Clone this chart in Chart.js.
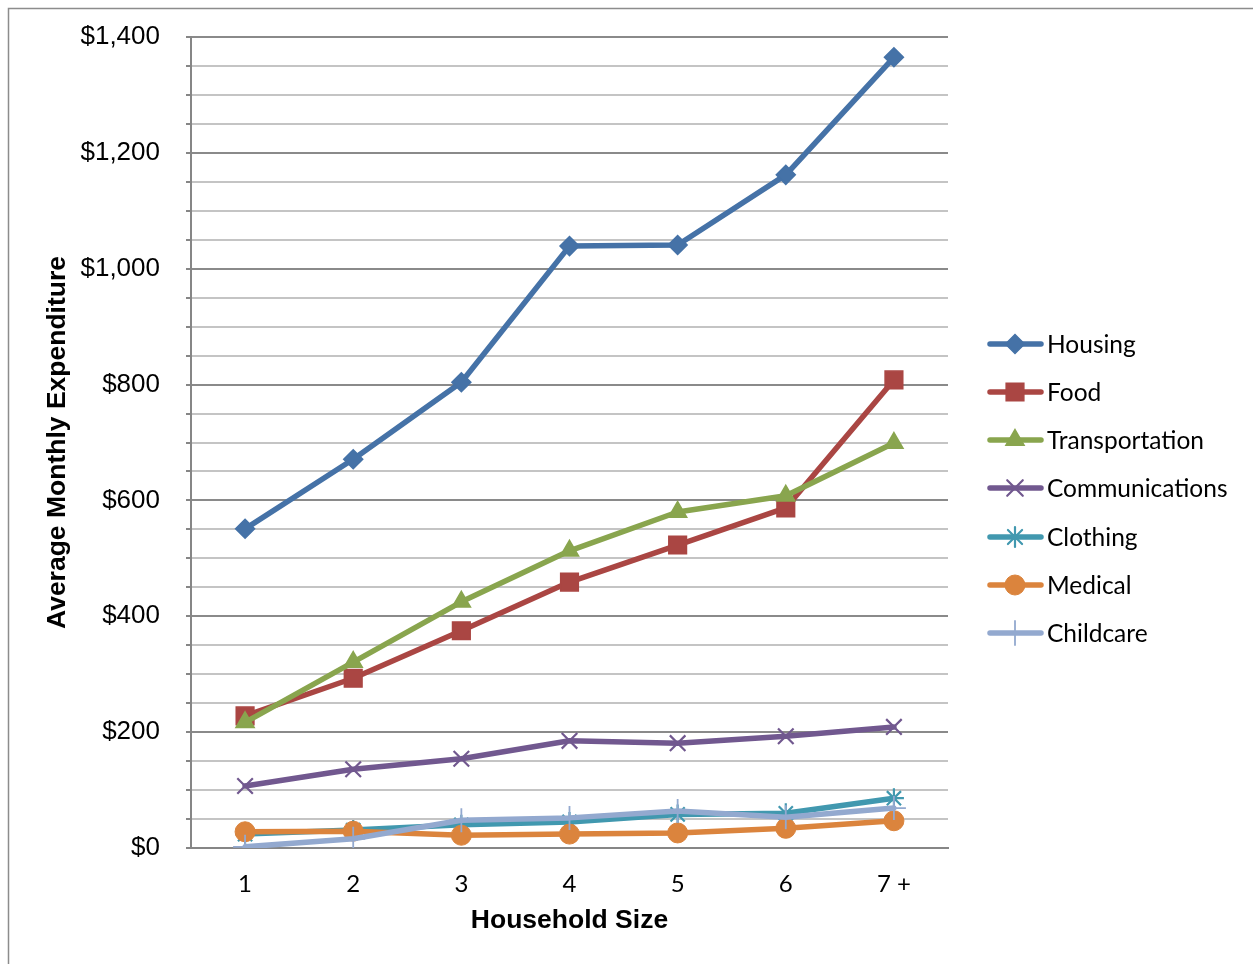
<!DOCTYPE html>
<html>
<head>
<meta charset="utf-8">
<script src="https://cdn.jsdelivr.net/npm/chart.js@4/dist/chart.umd.min.js"></script>
<style>
html,body{margin:0;padding:0;background:#fff;}
#wrap{position:relative;width:1253px;height:964px;}
canvas{display:block;}
</style>
</head>
<body>
<div id="wrap"><canvas id="c" width="1253" height="964"></canvas></div>
<script>
const categories = ['1', '2', '3', '4', '5', '6', '7 +'];
const housing = [551, 671, 804, 1039, 1041, 1162, 1365];
const food = [228, 293, 375, 459, 523, 587, 808];
const transportation = [217, 321, 425, 513, 580, 608, 699];
const communications = [107, 136, 154, 185, 181, 193, 209];
const clothing = [24, 31, 40, 45, 58, 60, 86];
const medical = [28, 29, 22, 24, 26, 34, 47];
const childcare = [2, 16, 48, 52, 64, 53, 69];
const yTickLabels = ['$0', '$200', '$400', '$600', '$800', '$1,000', '$1,200', '$1,400'];

const seriesDefs = [
  {label: 'Housing', data: housing, color: '#4572A7', style: 'rectRot', radius: 9.5, bw: 1.5},
  {label: 'Food', data: food, color: '#AA4643', style: 'rect', radius: 12.5, bw: 1.5},
  {label: 'Transportation', data: transportation, color: '#89A54E', style: 'triangle', radius: 10.5, bw: 1.5},
  {label: 'Communications', data: communications, color: '#71588F', style: 'crossRot', radius: 11, bw: 2.2},
  {label: 'Clothing', data: clothing, color: '#4198AF', style: 'star', radius: 10, bw: 2.2},
  {label: 'Medical', data: medical, color: '#DB843D', style: 'circle', radius: 10, bw: 1},
  {label: 'Childcare', data: childcare, color: '#93A9CF', style: 'cross', radius: 12, bw: 1.8}
];

const datasets = seriesDefs.map((s, i) => ({
  label: s.label,
  data: s.data,
  borderColor: s.color,
  backgroundColor: s.color,
  borderWidth: 5.5,
  pointStyle: s.style,
  pointRadius: s.radius,
  pointBorderWidth: s.bw,
  pointBackgroundColor: s.color,
  pointBorderColor: s.color,
  pointHoverRadius: s.radius,
  tension: 0,
  order: seriesDefs.length - i,
  borderCapStyle: 'round',
  borderJoinStyle: 'round'
}));

const frameAndLegend = {
  id: 'frameAndLegend',
  beforeDraw(chart) {
    const ctx = chart.ctx;
    ctx.save();
    ctx.fillStyle = '#fff';
    ctx.fillRect(0, 0, chart.width, chart.height);
    ctx.strokeStyle = '#8c8c8c';
    ctx.lineWidth = 1.5;
    ctx.beginPath();
    ctx.moveTo(8.5, 964);
    ctx.lineTo(8.5, 8.5);
    ctx.lineTo(1253, 8.5);
    ctx.stroke();
    ctx.restore();
  },
  afterDraw(chart) {
    const ctx = chart.ctx;
    ctx.save();
    const rows = [344, 392, 440, 488, 537, 585, 633];
    seriesDefs.forEach((s, i) => {
      const y = rows[i];
      ctx.strokeStyle = s.color;
      ctx.lineWidth = 5.5;
      ctx.lineCap = 'round';
      ctx.beginPath();
      ctx.moveTo(990, y);
      ctx.lineTo(1041, y);
      ctx.stroke();
      ctx.fillStyle = s.color;
      ctx.strokeStyle = s.color;
      ctx.lineWidth = s.bw;
      Chart.helpers.drawPoint(ctx, {pointStyle: s.style, radius: s.radius, borderWidth: s.bw, rotation: 0}, 1015, y);
      ctx.fillStyle = '#000';
      ctx.font = '24.5px Lato';
      ctx.textAlign = 'left';
      ctx.textBaseline = 'middle';
      ctx.fillText(s.label, 1047, y + 1);
    });
    ctx.restore();
  }
};

new Chart(document.getElementById('c'), {
  type: 'line',
  data: {labels: categories, datasets},
  options: {
    responsive: false,
    animation: false,
    events: [],
    layout: {padding: {left: 0, top: 37, right: 305, bottom: 0}},
    plugins: {legend: {display: false}, tooltip: {enabled: false}},
    scales: {
      x: {
        offset: true,
        grid: {display: false, drawTicks: false},
        border: {display: true, color: '#868686', width: 2},
        ticks: {color: '#000', font: {family: 'Lato', size: 24}, padding: 22},
        title: {display: true, text: 'Household Size', color: '#000', font: {family: 'Liberation Sans', size: 26.5, weight: 'bold'}, padding: {top: 0, bottom: 27}},
        afterFit(s) { s.height = 116; s.paddingLeft = 0; s.paddingRight = 0; }
      },
      y: {
        min: 0,
        max: 1400,
        ticks: {
          stepSize: 50,
          autoSkip: false,
          color: '#000',
          font: {family: 'Liberation Sans', size: 26},
          padding: 26,
          callback: (v) => (v % 200 === 0 ? yTickLabels[v / 200] : '')
        },
        grid: {
          color: (c) => (c.tick && c.tick.value % 200 === 0 ? '#8a8a8a' : '#c4c4c4'),
          lineWidth: 2,
          tickLength: 5,
          tickColor: '#868686'
        },
        border: {display: true, color: '#868686', width: 2},
        title: {display: true, text: 'Average Monthly Expenditure', color: '#000', font: {family: 'Liberation Sans', size: 26.5, weight: 'bold'}, padding: {top: 42, bottom: 0}},
        afterFit(s) { s.width = 191; s.paddingTop = 0; s.paddingBottom = 0; }
      }
    }
  },
  plugins: [frameAndLegend]
});
</script>
</body>
</html>
